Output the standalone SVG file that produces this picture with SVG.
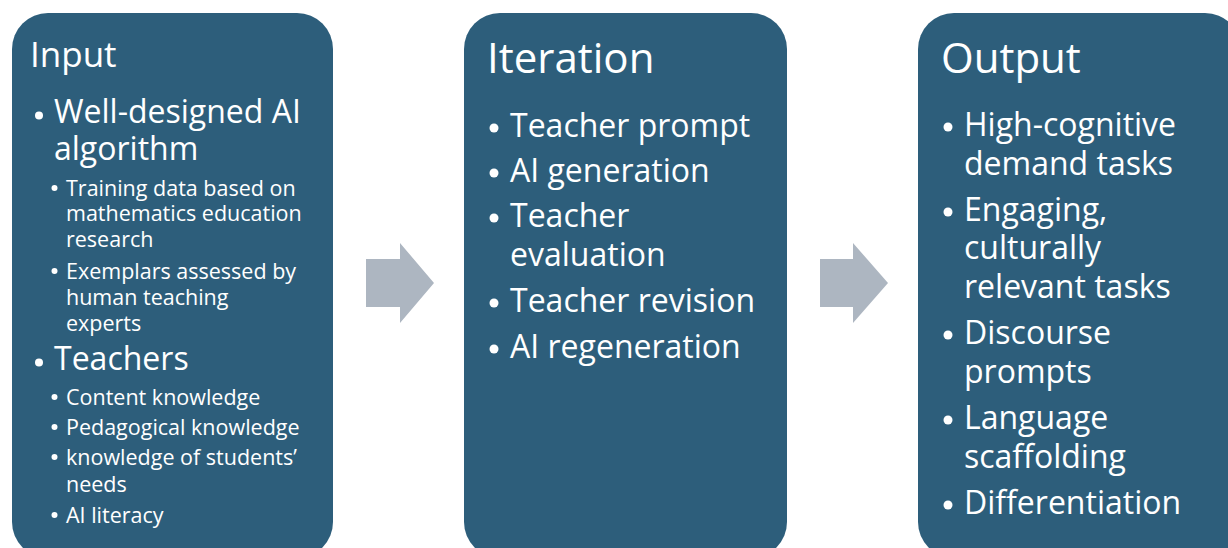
<svg xmlns="http://www.w3.org/2000/svg" width="1228" height="548" viewBox="0 0 1228 548">
  <style>
    .box { fill: #2D5E7B; }
    .arrow { fill: #ADB6C1; }
    .dot { fill: #FFFFFF; }
    text { fill: #FFFFFF; font-family: "Open Sans", "Noto Sans", sans-serif; }
    .t1 { font-size: 35px; }
    .t2 { font-size: 42px; }
    .m1 { font-size: 32px; }
    .m2 { font-size: 32px; }
    .s1 { font-size: 21.5px; }
  </style>
  <rect width="1228" height="548" fill="#FFFFFF"/>

  <!-- Input column -->
  <g id="input">
    <rect class="box" x="12" y="13" width="321" height="545" rx="36"/>
    <text class="t1" x="30" y="67">Input</text>
    <circle class="dot" cx="39" cy="115.5" r="4"/>
    <text class="m1" x="54" y="123">Well-designed AI</text>
    <text class="m1" x="54" y="160">algorithm</text>
    <circle class="dot" cx="54.5" cy="188" r="3"/>
    <text class="s1" x="66" y="196">Training data based on</text>
    <text class="s1" x="66" y="221">mathematics education</text>
    <text class="s1" x="66" y="247">research</text>
    <circle class="dot" cx="54.5" cy="271" r="3"/>
    <text class="s1" x="66" y="279">Exemplars assessed by</text>
    <text class="s1" x="66" y="305">human teaching</text>
    <text class="s1" x="66" y="331">experts</text>
    <circle class="dot" cx="39" cy="362.5" r="4"/>
    <text class="m1" x="54" y="370">Teachers</text>
    <circle class="dot" cx="54.5" cy="397" r="3"/>
    <text class="s1" x="66" y="405">Content knowledge</text>
    <circle class="dot" cx="54.5" cy="427" r="3"/>
    <text class="s1" x="66" y="435">Pedagogical knowledge</text>
    <circle class="dot" cx="54.5" cy="457" r="3"/>
    <text class="s1" x="66" y="465">knowledge of students’</text>
    <text class="s1" x="66" y="492">needs</text>
    <circle class="dot" cx="54.5" cy="515" r="3"/>
    <text class="s1" x="66" y="523">AI literacy</text>
  </g>

  <!-- Iteration column -->
  <g id="iteration">
    <rect class="box" x="464" y="13" width="323" height="545" rx="36"/>
    <text class="t2" x="487" y="73">Iteration</text>
    <circle class="dot" cx="494" cy="128" r="4.5"/>
    <text class="m2" x="510" y="137">Teacher prompt</text>
    <circle class="dot" cx="494" cy="173" r="4.5"/>
    <text class="m2" x="510" y="182">AI generation</text>
    <circle class="dot" cx="494" cy="218" r="4.5"/>
    <text class="m2" x="510" y="227">Teacher</text>
    <text class="m2" x="510" y="266">evaluation</text>
    <circle class="dot" cx="494" cy="303" r="4.5"/>
    <text class="m2" x="510" y="312">Teacher revision</text>
    <circle class="dot" cx="494" cy="349" r="4.5"/>
    <text class="m2" x="510" y="358">AI regeneration</text>
  </g>

  <!-- Output column -->
  <g id="output">
    <rect class="box" x="918" y="13" width="323" height="545" rx="36"/>
    <text class="t2" x="941" y="73">Output</text>
    <circle class="dot" cx="948" cy="127" r="4.5"/>
    <text class="m2" x="964" y="136">High-cognitive</text>
    <text class="m2" x="964" y="175">demand tasks</text>
    <circle class="dot" cx="948" cy="212" r="4.5"/>
    <text class="m2" x="964" y="221">Engaging,</text>
    <text class="m2" x="964" y="259">culturally</text>
    <text class="m2" x="964" y="298">relevant tasks</text>
    <circle class="dot" cx="948" cy="335" r="4.5"/>
    <text class="m2" x="964" y="344">Discourse</text>
    <text class="m2" x="964" y="383">prompts</text>
    <circle class="dot" cx="948" cy="420" r="4.5"/>
    <text class="m2" x="964" y="429">Language</text>
    <text class="m2" x="964" y="468">scaffolding</text>
    <circle class="dot" cx="948" cy="505" r="4.5"/>
    <text class="m2" x="964" y="514">Differentiation</text>
  </g>

  <!-- Block arrows between columns -->
  <g id="connectors">
    <polygon class="arrow" points="366,259 400,259 400,243 434,283 400,323 400,307 366,307"/>
    <polygon class="arrow" points="820,259 853,259 853,243 888,283 853,323 853,307 820,307"/>
  </g>
</svg>
